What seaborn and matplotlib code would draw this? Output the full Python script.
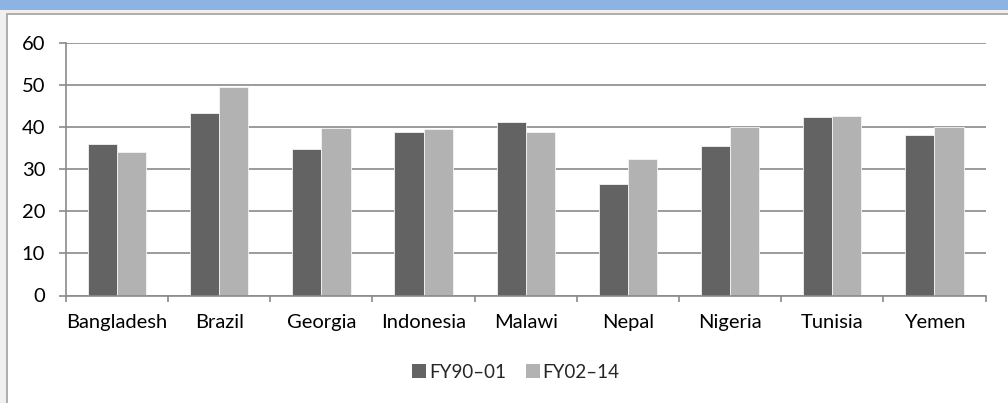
import matplotlib
matplotlib.use("Agg")
import matplotlib.pyplot as plt
import matplotlib.patches as mpatches
import seaborn as sns
import pandas as pd

countries = ["Bangladesh", "Brazil", "Georgia", "Indonesia", "Malawi",
             "Nepal", "Nigeria", "Tunisia", "Yemen"]
fy90_01 = [35.9, 43.3, 34.7, 38.7, 41.2, 26.4, 35.4, 42.3, 38.0]
fy02_14 = [34.0, 49.6, 39.8, 39.4, 38.9, 32.4, 39.9, 42.7, 40.1]
series_names = ["FY90\u201301", "FY02\u201314"]
colors = ["#636363", "#b2b2b2"]
yticks = [0, 10, 20, 30, 40, 50, 60]

df = pd.DataFrame({
    "country": countries * 2,
    "value": fy90_01 + fy02_14,
    "series": [series_names[0]] * len(countries) + [series_names[1]] * len(countries),
})

sns.set_theme(style="white")
plt.rcParams["font.family"] = ["Lato", "DejaVu Sans"]

W, H = 1008, 403
fig = plt.figure(figsize=(W / 100, H / 100), dpi=100)
fig.patch.set_facecolor("#f0f0f0")

# header band and frame
fig.patches.append(mpatches.Rectangle((0, 1 - 10 / H), 1, 10 / H, transform=fig.transFigure,
                                      facecolor="#8db3e2", edgecolor="none", zorder=-2))
fig.patches.append(mpatches.Rectangle((7 / W, -0.1), 1.1, 1 - 13.5 / H + 0.1, transform=fig.transFigure,
                                      facecolor="white", edgecolor="#a0a0a0", linewidth=1.2, zorder=-2))

x0, x1 = 66, 985.5
ytop, ybot = 42.7, 295.5
ax = fig.add_axes([x0 / W, (H - ybot) / H, (x1 - x0) / W, (ybot - ytop) / H])
ax.set_facecolor("none")

sns.barplot(data=df, x="country", y="value", hue="series", palette=colors,
            width=0.57, gap=0, ax=ax, edgecolor="#f4f4f4", linewidth=0.6,
            saturation=1, zorder=3)

ax.set_ylim(0, 60)
ax.set_xlim(-0.5, len(countries) - 0.5)
ax.set_yticks(yticks)
ax.set_xlabel("")
ax.set_ylabel("")

grid_c = "#8a8a8a"
ax.yaxis.grid(True, color=grid_c, linewidth=1.2, zorder=0)
ax.set_axisbelow(True)
for s in ["top", "right"]:
    ax.spines[s].set_visible(False)
for s in ["left", "bottom"]:
    ax.spines[s].set_color(grid_c)
    ax.spines[s].set_linewidth(1.2)
    ax.spines[s].set_zorder(4)

fs = 14.5
ax.tick_params(axis="y", which="major", direction="out", length=5, width=1.2,
               color=grid_c, left=True, pad=10, labelsize=fs, labelcolor="black")
ax.tick_params(axis="x", which="major", length=0, pad=13, labelsize=fs, labelcolor="black")
ax.set_xticks([i - 0.5 for i in range(len(countries) + 1)], minor=True)
ax.tick_params(axis="x", which="minor", direction="out", length=4.5, width=1.2,
               color=grid_c, bottom=True)

ax.get_legend().remove()
handles = [mpatches.Patch(facecolor=c, edgecolor="none") for c in colors]
fig.legend(handles, series_names, loc="center", bbox_to_anchor=(516 / W, 1 - 372 / H),
           ncol=2, frameon=False, fontsize=13.5, handlelength=0.75, handleheight=0.75,
           handletextpad=0.15, columnspacing=1.05)

fig.savefig("out.png", dpi=100)
